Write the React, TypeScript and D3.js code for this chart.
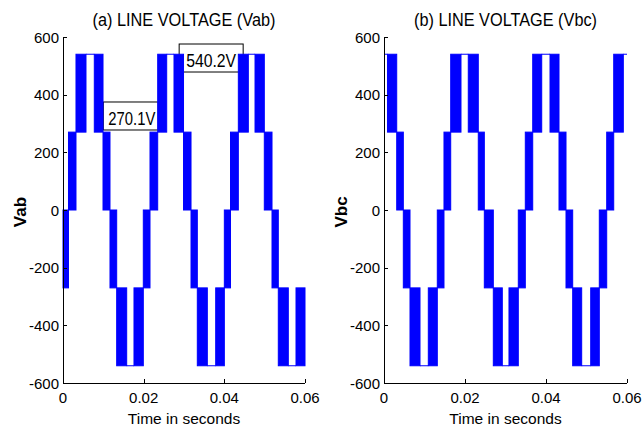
import React from 'react';
import * as d3 from 'd3';

// Voltage levels (V)
const H = 540.2;
const L = 270.1;

// Vab: switching-segment boundaries (ms), with lower / upper level of each segment
const vabEdgesMs = [0, 1.36, 3.22, 5.7, 7.76, 9.92, 11.65, 13.31, 15.79, 17.6, 19.91, 21.57, 23.48, 25.71, 27.52, 29.88, 31.74, 33.3, 35.78, 37.86, 40.0, 41.53, 43.47, 45.95, 47.61, 49.91, 51.82, 53.38, 55.86, 57.77, 60];
const vabLow = [-L, 0, L, H, L, 0, -L, -H, -H, -H, -L, 0, L, H, L, 0, -L, -H, -H, -H, -L, 0, L, H, L, 0, -L, -H, -H, -H];
const vabHigh = [0, L, H, H, H, L, 0, -L, -H, -L, 0, L, H, H, H, L, 0, -L, -H, -L, 0, L, H, H, H, L, 0, -L, -H, -L];

// Vbc
const vbcEdgesMs = [0, 0.86, 3.14, 4.77, 6.42, 8.89, 10.94, 13.16, 14.81, 16.47, 19.01, 20.81, 23.28, 24.77, 26.99, 29.21, 30.86, 33.16, 34.89, 36.72, 38.94, 40.99, 43.21, 44.94, 46.59, 48.81, 51.04, 53.16, 54.99, 56.72, 59.09, 60];
const vbcLow = [H, L, 0, -L, -H, -H, -H, -L, 0, L, H, L, 0, -L, -H, -H, -H, -L, 0, L, H, L, 0, -L, -H, -H, -H, -L, 0, L, H];
const vbcHigh = [H, H, L, 0, -L, -H, -L, 0, L, H, H, H, L, 0, -L, -H, -L, 0, L, H, H, H, L, 0, -L, -H, -L, 0, L, H, H];

const xTicks = [0, 0.02, 0.04, 0.06];
const xTickLabels = ['0', '0.02', '0.04', '0.06'];
const yTicks = [-600, -400, -200, 0, 200, 400, 600];
const panelTitles = ['(a) LINE VOLTAGE (Vab)', '(b) LINE VOLTAGE (Vbc)'];
const yLabels = ['Vab', 'Vbc'];
const xLabel = 'Time in seconds';

// Annotations on panel (a): text, anchor time (s), anchor value at box top (V)
const annotationTexts = ['270.1V', '540.2V'];
const annotationTimes = [0.00999, 0.0288];
const annotationTops = [374.6, 575.7];
const annotationTextLens = [47, 50];

const FONT = '"Liberation Sans", Arial, Helvetica, sans-serif';
const BLUE = '#0000ff';

type PanelProps = {
  left: number; right: number; top: number; bottom: number;
  edges: number[]; low: number[]; high: number[];
  title: string; ylabel: string; withAnnotations?: boolean;
};

function Panel({ left, right, top, bottom, edges, low, high, title, ylabel, withAnnotations }: PanelProps) {
  const x = d3.scaleLinear().domain([0, 0.06]).range([left, right]);
  const y = d3.scaleLinear().domain([-600, 600]).range([bottom, top]);
  const segs = low.map((lo, i) => ({ t0: edges[i] / 1000, t1: edges[i + 1] / 1000, lo, hi: high[i] }));
  const cx = (left + right) / 2;
  return (
    <g>
      {withAnnotations && annotationTexts.map((txt, i) => {
        const bx = x(annotationTimes[i]);
        const by = y(annotationTops[i]);
        const pad = i === 0 ? 5 : 7;
        const w = annotationTextLens[i] + pad * 2 + (i === 0 ? -2 : 0);
        return (
          <rect key={'ab' + i} x={bx} y={by} width={w} height={28} fill="#fff" stroke="#000" strokeWidth={1} />
        );
      })}
      {segs.map((s, i) =>
        s.lo === s.hi ? (
          <line key={i} x1={x(s.t0)} x2={x(s.t1)} y1={y(s.lo)} y2={y(s.lo)} stroke={BLUE} strokeWidth={1} />
        ) : (
          <rect key={i} x={x(s.t0)} y={y(s.hi)} width={x(s.t1) - x(s.t0)} height={y(s.lo) - y(s.hi)}
            fill={BLUE} stroke={BLUE} strokeWidth={1} />
        )
      )}
      {withAnnotations && annotationTexts.map((txt, i) => {
        const bx = x(annotationTimes[i]);
        const by = y(annotationTops[i]);
        const pad = i === 0 ? 5 : 7;
        return (
          <text key={'at' + i} x={bx + pad} y={by + 23} fontSize={19} fontFamily={FONT}
            textLength={annotationTextLens[i]} lengthAdjust="spacingAndGlyphs" fill="#000">{txt}</text>
        );
      })}
      {/* axes */}
      <path d={`M${left + 0.5},${top}V${bottom + 0.5}H${right}`} fill="none" stroke="#000" strokeWidth={1} />
      {yTicks.map((v) => (
        <g key={'y' + v}>
          <line x1={left} x2={left + 4} y1={Math.round(y(v)) + 0.5} y2={Math.round(y(v)) + 0.5} stroke="#000" />
          <text x={left - 4} y={y(v) + 5.5} textAnchor="end" fontSize={15} fontFamily={FONT} fill="#000">{v}</text>
        </g>
      ))}
      {xTicks.map((t, i) => (
        <g key={'x' + t}>
          <line x1={Math.round(x(t)) + 0.5} x2={Math.round(x(t)) + 0.5} y1={bottom} y2={bottom - 4} stroke="#000" />
          <text x={x(t)} y={bottom + 20} textAnchor="middle" fontSize={15} fontFamily={FONT} fill="#000">{xTickLabels[i]}</text>
        </g>
      ))}
      <text x={cx} y={bottom + 41} textAnchor="middle" fontSize={15.5} fontFamily={FONT} fill="#000">{xLabel}</text>
      <text x={cx} y={26} textAnchor="middle" fontSize={17.5} fontFamily={FONT} fill="#000"
        textLength={183} lengthAdjust="spacingAndGlyphs">{title}</text>
      <text transform={`translate(${left - 37},${(top + bottom) / 2 + 2}) rotate(-90)`} textAnchor="middle"
        fontSize={17} fontWeight="bold" fontFamily={FONT} fill="#000">{ylabel}</text>
    </g>
  );
}

export default function App() {
  return (
    <svg width={643} height={433} viewBox="0 0 643 433"
      style={{ position: 'absolute', left: 0, top: 0, background: '#fff' }}>
      <rect x={0} y={0} width={643} height={433} fill="#fff" />
      <Panel left={63} right={305} top={37} bottom={383} edges={vabEdgesMs} low={vabLow} high={vabHigh}
        title={panelTitles[0]} ylabel={yLabels[0]} withAnnotations />
      <Panel left={384} right={627} top={37} bottom={383} edges={vbcEdgesMs} low={vbcLow} high={vbcHigh}
        title={panelTitles[1]} ylabel={yLabels[1]} />
    </svg>
  );
}
